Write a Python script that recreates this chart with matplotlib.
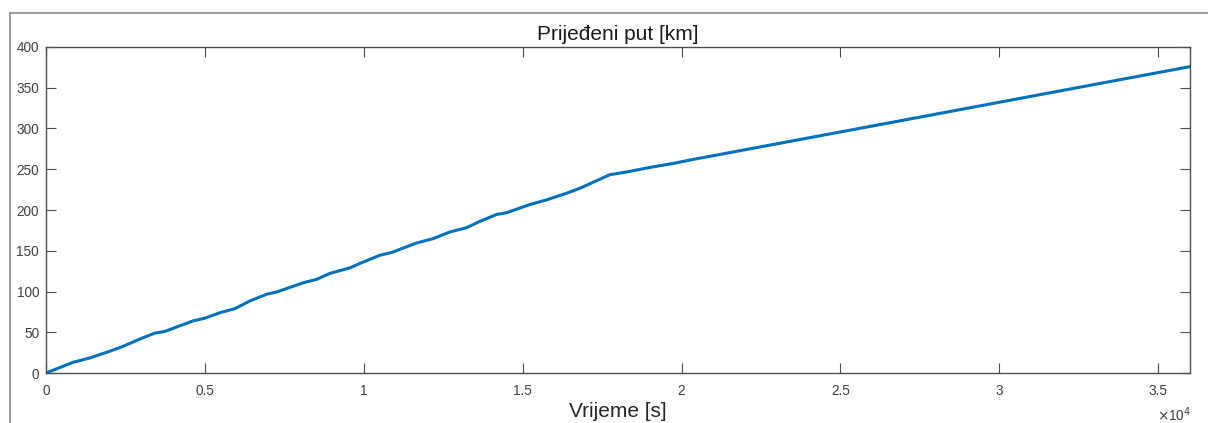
import matplotlib
matplotlib.use("Agg")
import matplotlib.pyplot as plt
from matplotlib.lines import Line2D

# vrijeme [s] i prijedeni put [km], ocitano s grafa
vrijeme = [0, 859, 1384, 1909, 2381, 2957, 3429, 3744, 4215, 4634, 5002, 5474,
           5945, 6417, 6942, 7257, 7675, 8094, 8515, 8934, 9563, 9877, 10506,
           10874, 11660, 12183, 12708, 13234, 13652, 14177, 14492, 15225, 15750,
           16379, 16798, 17216, 17741, 18266, 19000, 19733, 20251, 24000, 28000,
           32000, 36000]
put = [0, 13.2, 18.5, 25.4, 32.0, 41.7, 49.0, 51.0, 58.0, 64.0, 67.3, 74.0,
       79.0, 88.4, 96.6, 99.4, 105.0, 110.7, 114.9, 122.2, 129.0, 134.4, 144.5,
       147.8, 159.5, 164.9, 173.0, 178.3, 186.0, 194.5, 196.6, 206.7, 212.4,
       220.5, 226.6, 234.0, 243.3, 246.6, 252.2, 257.1, 261.2, 288.5, 317.6,
       346.8, 375.9]

x_ticks = [0, 5000, 10000, 15000, 20000, 25000, 30000, 35000]
x_tick_labels = ["0", "0.5", "1", "1.5", "2", "2.5", "3", "3.5"]
y_ticks = [0, 50, 100, 150, 200, 250, 300, 350, 400]

plt.rcParams["font.family"] = ["Liberation Sans", "DejaVu Sans"]

fig = plt.figure(figsize=(12.08, 4.23), dpi=100)
ax = fig.add_axes([46 / 1208, 50 / 423, 1144 / 1208, 326 / 423])

ax.plot(vrijeme, put, color="#0072BD", linewidth=2.2)

ax.set_xlim(0, 36000)
ax.set_ylim(0, 400)
ax.set_xticks(x_ticks)
ax.set_xticklabels(x_tick_labels)
ax.set_yticks(y_ticks)

axis_color = "#4d4d4d"
for s in ax.spines.values():
    s.set_color(axis_color)
    s.set_linewidth(1.0)
ax.tick_params(direction="in", length=7, width=0.8, color=axis_color,
               labelcolor="#404040", labelsize=9.8, top=True, right=True)
ax.tick_params(axis="x", pad=8)
ax.tick_params(axis="y", pad=5)

ax.set_title("Prijeđeni put [km]", fontsize=15, color="#1a1a1a", pad=5)
ax.set_xlabel("Vrijeme [s]", fontsize=15, color="#262626", labelpad=3)

fig.text(1157 / 1208, 1 - 415 / 423, r"$\times$10$^{4}$", fontsize=9.8,
         color="#404040", va="center", ha="left")

# okvir screenshota (gore i lijevo)
fig.add_artist(Line2D([10 / 1208, 1], [1 - 13 / 423, 1 - 13 / 423],
                      color="#8c8c8c", linewidth=1.2))
fig.add_artist(Line2D([10 / 1208, 10 / 1208], [0, 1 - 13 / 423],
                      color="#8c8c8c", linewidth=1.2))

fig.savefig("out.png", dpi=100)
